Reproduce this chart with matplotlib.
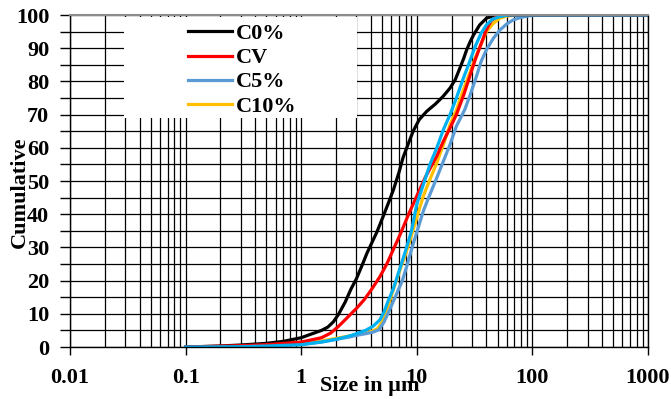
import matplotlib
matplotlib.use("Agg")
import matplotlib.pyplot as plt
from matplotlib.ticker import LogLocator, MultipleLocator, FuncFormatter, NullFormatter
from matplotlib.patches import Rectangle

# cumulative particle size distributions
c0_x = [0.1, 0.2, 0.3, 0.5, 0.7, 1.0, 1.2, 1.5, 1.7, 1.9, 2.1, 2.4, 2.7, 3.0, 3.4, 3.7,
        4.5, 5.1, 5.7, 6.3, 7.0, 7.6, 8.5, 9.3, 10.5, 12.2, 14.5, 16.9, 19.4, 21.5, 23.6,
        25.5, 27, 29, 31, 35, 40, 46, 55, 1000]
c0_y = [0, 0.3, 0.6, 1.1, 1.7, 2.8, 3.8, 5.0, 6.0, 7.6, 9.8, 13.5, 17.5, 20.5, 25, 28.2,
        34.5, 39.2, 43.5, 47.5, 52.5, 57, 61.5, 65, 68.5, 71, 73.2, 75.5, 78, 80.5, 84,
        87, 89.5, 92, 94, 97, 99, 99.8, 100, 100]

cv_x = [0.1, 0.3, 0.5, 1.0, 1.5, 1.8, 2.1, 2.4, 2.7, 3.0, 3.5, 4.0, 4.8, 5.5, 6.2, 7.2,
        8.5, 10, 12, 14.9, 17, 19.4, 22, 25.5, 28.7, 32, 35.3, 39.9, 44, 49, 60, 1000]
cv_y = [0, 0.4, 0.7, 1.5, 2.8, 4.2, 6.2, 8.2, 10, 11.6, 14.2, 17, 21.2, 25, 29, 34,
        40, 45.5, 51.5, 57.5, 62, 66, 70, 76, 81.5, 86.5, 90.5, 95.5, 98.3, 99.5, 100, 100]

c5_x = [0.1, 0.3, 0.5, 1.0, 1.5, 2.0, 2.6, 3.0, 3.6, 4.2, 4.7, 5.2, 5.7, 6.5, 7.5, 8.3,
        9.2, 10.2, 11.4, 13, 14.9, 17, 19.4, 22, 26, 29, 32.8, 36, 40, 46, 52.5, 60,
        68, 80, 95, 120, 1000]
c5_y = [0, 0.1, 0.3, 0.8, 1.5, 2.3, 3.0, 3.5, 4.0, 4.5, 5.2, 7.5, 10.5, 15, 20, 25,
        30.5, 35.5, 41, 46, 51, 56, 61, 66.5, 71.5, 76, 81.5, 86, 89.5, 93, 95.5, 97.3,
        98.5, 99.3, 99.8, 100, 100]

c10_x = [0.1, 0.3, 0.5, 1.0, 1.5, 2.0, 2.6, 3.0, 3.6, 4.2, 4.6, 5.0, 5.4, 5.85, 6.5, 7.2,
         8.0, 8.8, 10, 11.4, 13, 14.9, 17, 19.4, 22.1, 25, 28.7, 32, 35.3, 40, 46, 52,
         60, 75, 1000]
c10_y = [0, 0.2, 0.4, 1.0, 1.8, 2.6, 3.3, 3.8, 4.3, 4.9, 5.6, 7.5, 10.5, 14, 19, 23.5,
         28, 32.5, 39, 45.5, 50.5, 55.5, 61, 67, 71.5, 77, 82.5, 87, 90.5, 95, 97.5, 99,
         99.7, 100, 100]

# fifth curve drawn in the figure but missing from the legend
extra_x = [0.1, 0.3, 0.5, 1.0, 1.5, 2.0, 2.6, 3.0, 3.6, 4.2, 4.8, 5.2, 5.6, 6.26, 7.2, 8.0,
           9, 10, 11.4, 13, 14.9, 17, 19.4, 22, 25, 28, 32, 36, 40, 45, 52, 62, 1000]
extra_y = [0, 0.1, 0.3, 0.7, 1.5, 2.3, 3.3, 4.0, 5.0, 6.3, 8.2, 10.5, 13.5, 17.5, 24, 29,
           35, 43, 49, 55, 60, 65.5, 70, 75, 80.5, 85, 90.5, 94.5, 97, 98.7, 99.5, 100, 100]

plt.rcParams["font.family"] = ["Liberation Serif", "DejaVu Serif"]
plt.rcParams["font.weight"] = "bold"

fig = plt.figure(figsize=(6.71, 3.99), dpi=100)
ax = fig.add_axes([0.1043, 0.1303, 0.8614, 0.8321])

lw = 2.3
ax.plot(c10_x, c10_y, color="#FFC000", lw=lw, label="C10%", zorder=2)
ax.plot(c5_x, c5_y, color="#5B9BD5", lw=lw, label="C5%", zorder=2.1)
ax.plot(c0_x, c0_y, color="black", lw=lw, label="C0%", zorder=2.2)
ax.plot(cv_x, cv_y, color="#FF0000", lw=lw, label="CV", zorder=2.3)
ax.plot(extra_x, extra_y, color="#00B0F0", lw=lw, zorder=2.4)

ax.set_xscale("log")
ax.set_xlim(0.01, 1000)
ax.set_ylim(0, 100)

ax.xaxis.set_major_locator(LogLocator(base=10, numticks=10))
ax.xaxis.set_minor_locator(LogLocator(base=10, subs=range(2, 10), numticks=100))
ax.xaxis.set_major_formatter(FuncFormatter(lambda v, p: "%g" % v))
ax.xaxis.set_minor_formatter(NullFormatter())
ax.yaxis.set_major_locator(MultipleLocator(10))
ax.yaxis.set_minor_locator(MultipleLocator(5))

ax.set_axisbelow(True)
ax.grid(which="both", color="black", lw=0.9)

ax.tick_params(axis="x", which="major", direction="out", length=6, width=1, pad=9, labelsize=16)
ax.tick_params(axis="x", which="minor", length=0)
ax.tick_params(axis="y", which="both", direction="out", length=7, width=1, pad=8, labelsize=16)

for s in ["left", "bottom", "right"]:
    ax.spines[s].set_color("black")
    ax.spines[s].set_linewidth(1)
ax.spines["top"].set_color("#8c8c8c")
ax.spines["top"].set_linewidth(1.5)

ax.set_xlabel("Size in \u00b5m", fontsize=16, fontweight="bold", va="top")
ax.xaxis.set_label_coords(0.519, -0.088)
ax.set_ylabel("Cumulative", fontsize=16, fontweight="bold", va="center")
ax.yaxis.set_label_coords(-0.0865, 0.467)

# white panel behind the legend, hides the grid there
ax.add_patch(Rectangle((0.093, 0.69), 0.404, 0.304, transform=ax.transAxes,
                       facecolor="white", edgecolor="none", zorder=1))

handles, labels = ax.get_legend_handles_labels()
order = [2, 3, 1, 0]
leg = ax.legend([handles[i] for i in order], [labels[i] for i in order],
                loc="upper left", bbox_to_anchor=(0.204, 0.974), frameon=False,
                fontsize=16, handlelength=2.0, handletextpad=0.18, labelspacing=0.16,
                borderpad=0, borderaxespad=0)
for t in leg.get_texts():
    t.set_fontweight("bold")

fig.savefig("out.png", dpi=100)
